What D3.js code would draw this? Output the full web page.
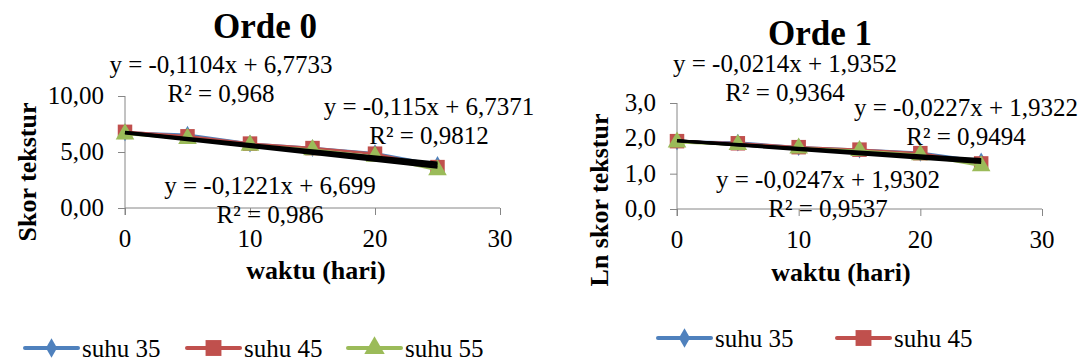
<!DOCTYPE html>
<html>
<head>
<meta charset="utf-8">
<script src="https://cdn.jsdelivr.net/npm/d3@7/dist/d3.min.js"></script>
<style>
  body { margin: 0; background: #fff; }
  #wrap { position: relative; width: 1089px; height: 363px; }
  #chart { position: absolute; left: 0; top: 0; }
  .lbl { position: absolute; font-family: 'Liberation Serif', 'Times New Roman', serif; color: #000;
         line-height: 1; white-space: nowrap; }
</style>
</head>
<body>
<div id="wrap"><svg id="chart" width="1089" height="363"></svg></div>
<script>
var days = [0, 5, 10, 15, 20, 25];
var seriesNames = ["suhu 35", "suhu 45", "suhu 55"];
var seriesColors = ["#4F81BD", "#C0504D", "#9BBB59"];

// Orde 0 : skor tekstur
var skor35 = [6.75, 6.55, 5.75, 5.35, 4.9, 3.85];
var skor45 = [6.8, 6.4, 5.75, 5.35, 4.85, 3.65];
var skor55 = [6.6, 6.2, 5.6, 5.2, 4.6, 3.4];
// Orde 1 : ln skor tekstur
var ln35 = [1.91, 1.88, 1.75, 1.68, 1.59, 1.35];
var ln45 = [1.92, 1.86, 1.75, 1.68, 1.58, 1.29];
var ln55 = [1.89, 1.82, 1.72, 1.65, 1.53, 1.22];

// trendline coefficients (slope, intercept, R2) from the chart labels
var trend0 = [[-0.1104, 6.7733, "0,968"], [-0.115, 6.7371, "0,9812"], [-0.1221, 6.699, "0,986"]];
var trend1 = [[-0.0214, 1.9352, "0,9364"], [-0.0227, 1.9322, "0,9494"], [-0.0247, 1.9302, "0,9537"]];

var xTicks = [0, 10, 20, 30];
var yTicks0 = [0, 5, 10];
var yTicks1 = [0, 1, 2, 3];

var svg = d3.select("#chart");
var wrap = d3.select("#wrap");

function comma(f) {
	return function(v) { return d3.format(f)(v).replace(".", ",").replace("\u2212", "-"); };
}

function eqText(t) {
	return "y = " + String(t[0]).replace(".", ",") + "x + " + String(t[1]).replace(".", ",");
}

// html text placed by its baseline
function label(x, y, txt, size, bold, anchor) {
	var shift = anchor === "start" ? "0" : (anchor === "end" ? "-100%" : "-50%");
	return wrap.append("div").attr("class", "lbl")
		.style("left", x + "px").style("top", (y - 0.84 * size) + "px")
		.style("font-size", size + "px").style("font-weight", bold ? "bold" : "normal")
		.style("transform", "translateX(" + shift + ")")
		.text(txt);
}

// rotated html text, centred on (cx, cy)
function vlabel(cx, cy, txt, size) {
	return wrap.append("div").attr("class", "lbl")
		.style("left", cx + "px").style("top", cy + "px")
		.style("font-size", size + "px").style("font-weight", "bold")
		.style("transform", "translate(-50%,-50%) rotate(-90deg)")
		.text(txt);
}

function drawChart(cfg) {
	var g = svg.append("g");
	var x = d3.scaleLinear().domain([0, 30]).range(cfg.xRange);
	var y = d3.scaleLinear().domain(cfg.yDomain).range(cfg.yRange);

	// axes (tick marks from d3, labels as html)
	var gy = g.append("g").attr("transform", "translate(" + cfg.xRange[0] + ",0)")
		.call(d3.axisLeft(y).tickValues(cfg.yTicks).tickSize(7).tickFormat(""));
	var gx = g.append("g").attr("transform", "translate(0," + cfg.yRange[0] + ")")
		.call(d3.axisBottom(x).tickValues(xTicks).tickSize(7).tickFormat(""));
	[gx, gy].forEach(function(a) {
		a.select(".domain").remove();
		a.selectAll(".tick line").attr("stroke", "#868686");
	});
	g.append("line").attr("x1", cfg.xRange[0]).attr("x2", cfg.xRange[0])
		.attr("y1", cfg.yRange[1]).attr("y2", cfg.yRange[0] + 7).attr("stroke", "#868686");
	g.append("line").attr("x1", cfg.xRange[0]).attr("x2", cfg.xRange[1])
		.attr("y1", cfg.yRange[0]).attr("y2", cfg.yRange[0]).attr("stroke", "#868686");
	cfg.yTicks.forEach(function(v) {
		label(cfg.xRange[0] - 21, y(v) + 8, cfg.yFormat(v), 25, false, "end");
	});
	xTicks.forEach(function(v) {
		label(x(v), cfg.yRange[0] + 39, String(v), 25);
	});

	// series
	var line = d3.line().x(function(d, i) { return x(days[i]); }).y(function(d) { return y(d); });
	var shapes = [d3.symbolDiamond, d3.symbolSquare, d3.symbolTriangle];
	var sizes = [90, 210, 150];
	cfg.series.forEach(function(vals, k) {
		g.append("path").attr("d", line(vals)).attr("fill", "none")
			.attr("stroke", seriesColors[k]).attr("stroke-width", 2.5);
		g.selectAll(".m" + k).data(vals).enter().append("path")
			.attr("class", "m" + k)
			.attr("transform", function(d, i) { return "translate(" + x(days[i]) + "," + y(d) + ")"; })
			.attr("d", d3.symbol().type(shapes[k]).size(sizes[k]))
			.attr("fill", seriesColors[k]);
	});

	// trendlines
	cfg.trend.forEach(function(t) {
		g.append("line")
			.attr("x1", x(0)).attr("y1", y(t[1]))
			.attr("x2", x(25)).attr("y2", y(t[1] + t[0] * 25))
			.attr("stroke", "#000").attr("stroke-width", 3);
	});

	// equation labels
	cfg.trend.forEach(function(t, k) {
		var p = cfg.labelPos[k];
		label(p[0], p[1], eqText(t), 25);
		label(p[0], p[1] + 29, "R² = " + t[2], 25);
	});

	// titles
	label(cfg.titlePos[0], cfg.titlePos[1], cfg.title, 35, true);
	label(cfg.xTitlePos[0], cfg.xTitlePos[1], "waktu (hari)", 26, true);
	vlabel(cfg.yTitlePos[0], cfg.yTitlePos[1], cfg.yTitle, 26);

	// legend
	cfg.legend.forEach(function(L, k) {
		var lg = g.append("g").attr("transform", "translate(" + L[0] + "," + L[1] + ")");
		lg.append("line").attr("x1", 0).attr("x2", 53).attr("stroke", seriesColors[k])
			.attr("stroke-width", 4).attr("stroke-linecap", "round");
		lg.append("path").attr("transform", "translate(26.5,0)")
			.attr("d", d3.symbol().type(shapes[k]).size(sizes[k] * 1.2)).attr("fill", seriesColors[k]);
		label(L[0] + 57, L[1] + 9, seriesNames[k], 25, false, "start");
	});
}

drawChart({
	title: "Orde 0", titlePos: [265, 38],
	xRange: [125, 500], yDomain: [0, 10], yRange: [208, 96],
	yTicks: yTicks0, yFormat: comma(".2f"),
	series: [skor35, skor45, skor55], trend: trend0,
	labelPos: [[221, 73], [429, 115], [270, 194]],
	xTitlePos: [316, 280], yTitlePos: [28, 172], yTitle: "Skor tekstur",
	legend: [[25, 348], [187, 348], [348, 348]]
});

drawChart({
	title: "Orde 1", titlePos: [820, 45],
	xRange: [677, 1042], yDomain: [0, 3], yRange: [209, 103],
	yTicks: yTicks1, yFormat: comma(".1f"),
	series: [ln35, ln45, ln55], trend: trend1,
	labelPos: [[785, 72], [966, 116], [828, 188]],
	xTitlePos: [841, 282], yTitlePos: [600, 200], yTitle: "Ln skor tekstur",
	legend: [[658, 338], [837, 338]]
});
</script>
</body>
</html>
